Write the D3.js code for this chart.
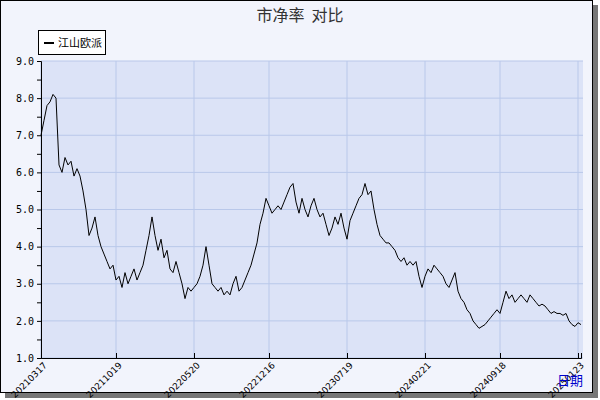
<!DOCTYPE html><html><head><meta charset="utf-8">
<script src="https://d3js.org/d3.v7.min.js"></script>
<style>body{margin:0;background:#fff}</style></head><body><svg id="c" width="600" height="400"></svg>
<script>
const seriesName="江山欧派";
const values=[7.0,7.4,7.8,7.9,8.1,8.0,6.2,6.0,6.4,6.2,6.3,5.9,6.1,5.9,5.5,5.0,4.3,4.5,4.8,4.3,4.0,3.8,3.6,3.4,3.5,3.1,3.2,2.9,3.3,3.0,3.2,3.4,3.1,3.3,3.5,3.9,4.3,4.8,4.3,3.9,4.2,3.7,3.9,3.4,3.3,3.6,3.3,3.0,2.6,2.9,2.8,2.9,3.0,3.2,3.5,4.0,3.5,3.0,2.9,2.8,2.9,2.7,2.8,2.7,3.0,3.2,2.8,2.9,3.1,3.3,3.5,3.8,4.1,4.6,4.9,5.3,5.1,4.9,5.0,5.1,5.0,5.2,5.4,5.6,5.7,5.2,4.9,5.3,5.0,4.8,5.1,5.3,5.0,4.8,4.9,4.6,4.3,4.5,4.8,4.6,4.9,4.5,4.2,4.7,4.9,5.1,5.3,5.4,5.7,5.4,5.5,5.0,4.6,4.3,4.2,4.1,4.1,4.0,3.9,3.7,3.6,3.7,3.5,3.6,3.5,3.6,3.2,2.9,3.2,3.4,3.3,3.5,3.4,3.3,3.2,3.0,2.9,3.1,3.3,2.8,2.6,2.5,2.3,2.2,2.0,1.9,1.8,1.85,1.9,2.0,2.1,2.2,2.3,2.2,2.5,2.8,2.6,2.7,2.5,2.6,2.7,2.6,2.5,2.7,2.6,2.5,2.4,2.45,2.4,2.3,2.2,2.25,2.2,2.2,2.15,2.2,2.0,1.9,1.85,1.95,1.9];
const tickIdx=[0,25,51,76,102,128,153,179];
const tickLabels=["20210317","20211019","20220520","20221216","20230719","20240221","20240918","20250123"];
const yTicks=[1,2,3,4,5,6,7,8,9];
const svg=d3.select("#c");
svg.append("rect").attr("x",5).attr("y",5).attr("width",593).attr("height",393).attr("fill","#777");
svg.append("rect").attr("x",0.5).attr("y",0.5).attr("width",592).attr("height",392).attr("fill","#f2f4fc").attr("stroke","#000");
const L=41,R=583,T=61,B=358;
const x=d3.scaleLinear().domain([0,values.length-1]).range([L,R-2]);
const y=d3.scaleLinear().domain([1,9]).range([B,T]);
svg.append("rect").attr("x",L).attr("y",T).attr("width",R-L).attr("height",B-T).attr("fill","#dce3f7");
const g=svg.append("g");
yTicks.forEach(t=>g.append("line").attr("x1",L).attr("x2",R).attr("y1",y(t)).attr("y2",y(t)).attr("stroke","#b9c8ea"));
tickIdx.forEach(i=>g.append("line").attr("x1",x(i)).attr("x2",x(i)).attr("y1",T).attr("y2",B).attr("stroke","#b9c8ea"));
svg.append("path").datum(values).attr("fill","none").attr("stroke","#000").attr("stroke-width",1)
 .attr("d",d3.line().x((d,i)=>x(i)).y(d=>y(d)));
const ya=svg.append("g").attr("transform",`translate(${L},0)`).call(d3.axisLeft(y).tickValues(d3.range(1,9.01,0.5)).tickSize(4).tickFormat(d=>Number.isInteger(d)?d.toFixed(1):""));
ya.selectAll("text").attr("font-family","DejaVu Sans Mono").attr("font-size",10).attr("fill","#000");
ya.select(".domain").attr("stroke","#000");
const xa=svg.append("g").attr("transform",`translate(0,${B})`).call(d3.axisBottom(x).tickValues(tickIdx).tickSize(-5).tickFormat((d,i)=>tickLabels[i]));
xa.select(".domain").attr("stroke","#000");
xa.selectAll("text").attr("font-family","DejaVu Sans").attr("font-size",9).attr("fill","#000")
 .attr("text-anchor","end").attr("y",0).attr("dy",0).attr("transform","translate(6,8) rotate(-45)");
svg.append("text").attr("x",300).attr("y",21).attr("text-anchor","middle").attr("font-family","Noto Sans CJK SC").attr("font-size",16).attr("fill","#333").style("white-space","pre").text("市净率  对比");
svg.append("rect").attr("x",38.5).attr("y",30.5).attr("width",67).attr("height",24).attr("fill","#fff").attr("stroke","#000");
svg.append("line").attr("x1",44).attr("x2",54).attr("y1",43).attr("y2",43).attr("stroke","#000").attr("stroke-width",2);
svg.append("text").attr("x",58).attr("y",47).attr("font-family","Noto Sans CJK SC").attr("font-size",11).text(seriesName);
svg.append("text").attr("x",583).attr("y",385).attr("text-anchor","end").attr("font-family","Noto Sans CJK SC").attr("font-size",13).attr("fill","#00c").text("日期");
</script></body></html>
